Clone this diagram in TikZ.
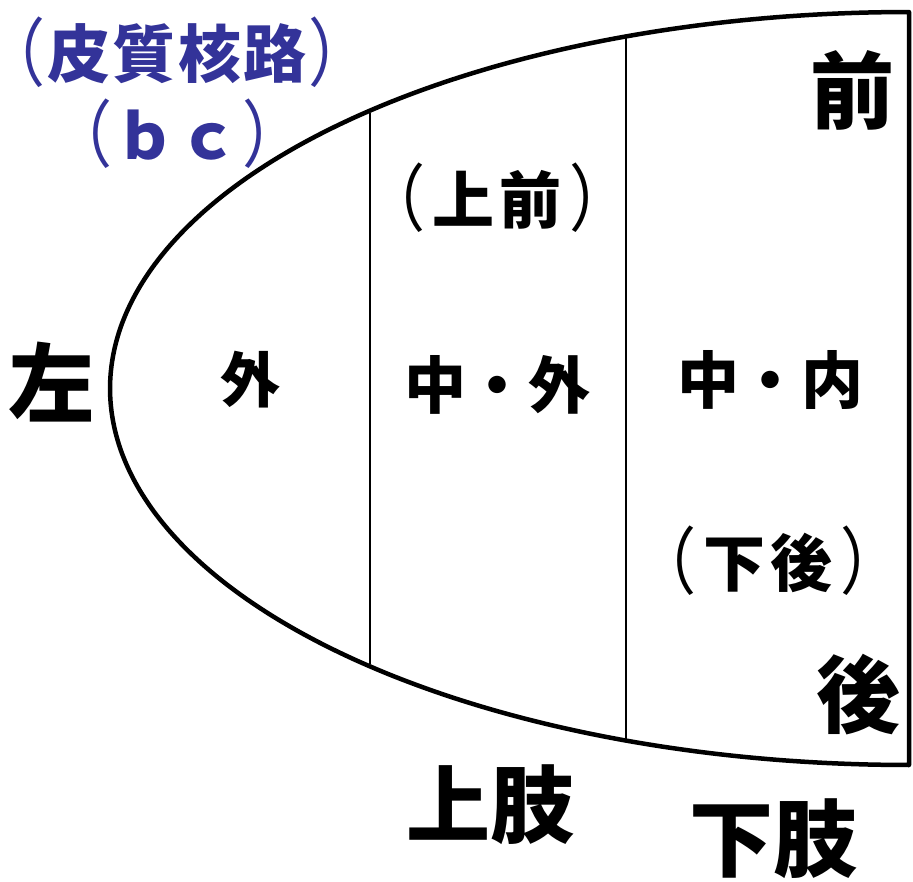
\documentclass[tikz,border=0pt]{standalone}
\usepackage{fontspec}
\setmainfont{Noto Sans CJK JP}
\definecolor{kblue}{RGB}{51,51,153}
\newcommand\klp{\kern-0.45em\raisebox{-0.04em}{\scalebox{1}[1.18]{\mdseries （}}}
\newcommand\krp{\raisebox{-0.04em}{\scalebox{1}[1.18]{\mdseries ）}}\kern-0.45em}
\tikzset{
  lab/.style={font=\bfseries\fontsize{#1}{#1}\selectfont, inner sep=0pt, anchor=center},
  bluelab/.style={lab=#1, text=kblue},
  outer/.style={line width=4.5pt, line join=round},
  divider/.style={line width=2pt}
}
\begin{document}
\begin{tikzpicture}[x=1pt,y=-1pt]
\useasboundingbox (0,0) rectangle (913,881);
% outer shape
\draw[outer] plot[domain=-90:90, samples=120, smooth] ({909-799*cos(\x)},{388.5+376.5*sin(\x)}) -- cycle;
% dividers
\coordinate (d1t) at (370,113);
\coordinate (d1b) at (370,664);
\coordinate (d2t) at (626,38);
\coordinate (d2b) at (626,739);
\draw[divider] (d1t) -- (d1b);
\draw[divider] (d2t) -- (d2b);
% labels
\node[bluelab=63] (bc1) at (177,52) {\klp\kern1.5pt 皮\kern2.5pt 質\kern2.5pt 核\kern2.5pt 路\kern1.5pt\krp};
\node[bluelab=62] (bc2) at (177,134) {\klp\kern2pt ｂ\kern2pt ｃ\kern2pt\krp};
\node[lab=84] (ant) at (852,90) {前};
\node[lab=86] (left) at (52,382) {左};
\node[lab=60] (lat) at (250,380) {外};
\node[lab=62] (ua) at (497,198) {\klp\kern7pt 上\kern6pt 前\kern7pt\krp};
\node[lab=62] (ml) at (497,385) {中・外};
\node[lab=62] (mm) at (770,380) {中・内};
\node[lab=62] (lp) at (768,561) {\klp\kern7pt 下\kern6pt 後\kern7pt\krp};
\node[lab=84] (post) at (858,695) {後};
\node[lab=84] (ul) at (490,805) {上肢};
\node[lab=84] (ll) at (773,839) {下肢};
\end{tikzpicture}
\end{document}
